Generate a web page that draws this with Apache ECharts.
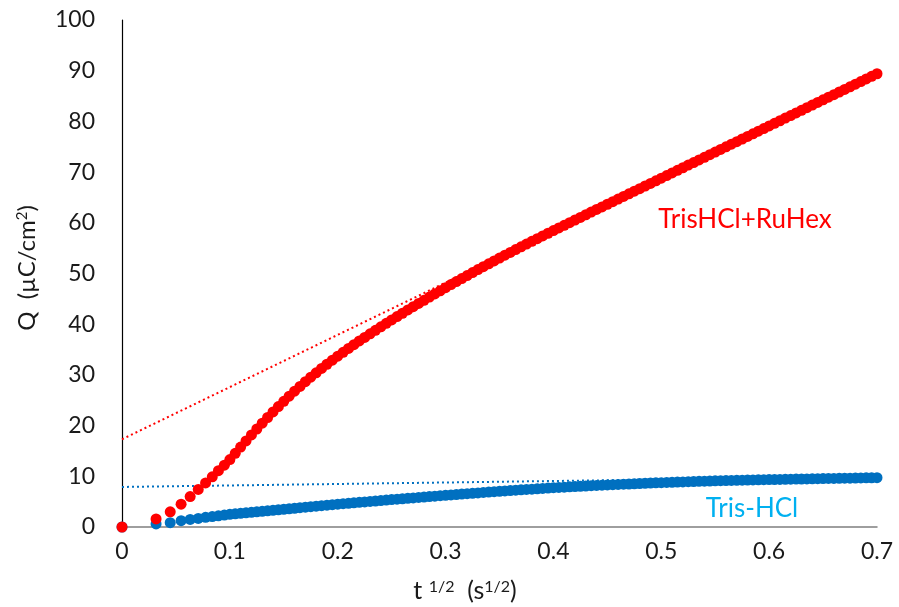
<!DOCTYPE html>
<html>
<head>
<meta charset="utf-8">
<script src="https://cdn.jsdelivr.net/npm/echarts@6/dist/echarts.min.js"></script>
<style>
  html, body { margin: 0; padding: 0; background: #fff; }
  #chart { width: 899px; height: 607px; }
</style>
</head>
<body>
<div id="chart"></div>
<script>
// Square root of time (s^1/2) for each sample
const tSqrt = [
  0, 0.0316, 0.0447, 0.0548, 0.0632, 0.0707, 0.0775, 0.0837, 0.0894, 0.0949, 0.1,
  0.105, 0.11, 0.115, 0.12, 0.125, 0.13, 0.135, 0.14, 0.145, 0.15,
  0.155, 0.16, 0.165, 0.17, 0.175, 0.18, 0.185, 0.19, 0.195, 0.2,
  0.205, 0.21, 0.215, 0.22, 0.225, 0.23, 0.235, 0.24, 0.245, 0.25,
  0.255, 0.26, 0.265, 0.27, 0.275, 0.28, 0.285, 0.29, 0.295, 0.3,
  0.305, 0.31, 0.315, 0.32, 0.325, 0.33, 0.335, 0.34, 0.345, 0.35,
  0.355, 0.36, 0.365, 0.37, 0.375, 0.38, 0.385, 0.39, 0.395, 0.4,
  0.405, 0.41, 0.415, 0.42, 0.425, 0.43, 0.435, 0.44, 0.445, 0.45,
  0.455, 0.46, 0.465, 0.47, 0.475, 0.48, 0.485, 0.49, 0.495, 0.5,
  0.505, 0.51, 0.515, 0.52, 0.525, 0.53, 0.535, 0.54, 0.545, 0.55,
  0.555, 0.56, 0.565, 0.57, 0.575, 0.58, 0.585, 0.59, 0.595, 0.6,
  0.605, 0.61, 0.615, 0.62, 0.625, 0.63, 0.635, 0.64, 0.645, 0.65,
  0.655, 0.66, 0.665, 0.67, 0.675, 0.68, 0.685, 0.69, 0.695, 0.7
];

// Charge in Tris-HCl + RuHex (µC/cm²)
const qRuHex = [
  0, 1.6, 3.0, 4.5, 6.0, 7.4, 8.7, 9.9, 11.1, 12.2, 13.3,
  14.54, 15.76, 16.97, 18.16, 19.33, 20.48, 21.60, 22.69, 23.75, 24.79,
  25.80, 26.78, 27.73, 28.66, 29.55, 30.42, 31.27, 32.10, 32.90, 33.69,
  34.46, 35.21, 35.96, 36.69, 37.40, 38.11, 38.80, 39.49, 40.17, 40.84,
  41.50, 42.16, 42.81, 43.45, 44.09, 44.72, 45.35, 45.97, 46.59, 47.20,
  47.81, 48.41, 49.01, 49.60, 50.19, 50.77, 51.35, 51.92, 52.49, 53.05,
  53.61, 54.16, 54.71, 55.26, 55.80, 56.34, 56.87, 57.41, 57.94, 58.46,
  58.98, 59.51, 60.03, 60.55, 61.07, 61.59, 62.11, 62.63, 63.14, 63.66,
  64.17, 64.68, 65.20, 65.71, 66.23, 66.74, 67.26, 67.77, 68.29, 68.80,
  69.32, 69.83, 70.35, 70.86, 71.38, 71.89, 72.41, 72.92, 73.44, 73.95,
  74.47, 74.98, 75.50, 76.01, 76.53, 77.04, 77.56, 78.07, 78.59, 79.10,
  79.62, 80.13, 80.65, 81.16, 81.68, 82.19, 82.71, 83.22, 83.74, 84.25,
  84.77, 85.28, 85.80, 86.31, 86.83, 87.34, 87.86, 88.37, 88.89, 89.40
];

// Charge in Tris-HCl buffer alone (µC/cm²)
const qTris = [
  0, 0.6, 0.85, 1.25, 1.5, 1.7, 1.9, 2.05, 2.2, 2.35, 2.5,
  2.6, 2.7, 2.8, 2.9, 3.0, 3.1, 3.2, 3.3, 3.4, 3.5,
  3.6, 3.7, 3.8, 3.9, 4.0, 4.1, 4.2, 4.3, 4.4, 4.5,
  4.59, 4.68, 4.77, 4.86, 4.95, 5.04, 5.13, 5.22, 5.31, 5.40,
  5.49, 5.57, 5.66, 5.74, 5.83, 5.91, 6.00, 6.08, 6.17, 6.25,
  6.33, 6.41, 6.49, 6.57, 6.65, 6.73, 6.81, 6.89, 6.97, 7.05,
  7.12, 7.19, 7.26, 7.33, 7.40, 7.47, 7.54, 7.61, 7.68, 7.75,
  7.81, 7.86, 7.92, 7.97, 8.03, 8.08, 8.14, 8.19, 8.25, 8.30,
  8.35, 8.39, 8.44, 8.48, 8.53, 8.57, 8.62, 8.66, 8.71, 8.75,
  8.79, 8.82, 8.86, 8.89, 8.93, 8.96, 9.00, 9.03, 9.07, 9.10,
  9.13, 9.15, 9.18, 9.20, 9.23, 9.25, 9.28, 9.30, 9.33, 9.35,
  9.37, 9.39, 9.41, 9.43, 9.45, 9.47, 9.49, 9.51, 9.53, 9.55,
  9.57, 9.58, 9.60, 9.62, 9.63, 9.65, 9.67, 9.69, 9.70, 9.72
];

// Linear fits (dotted trend lines): endpoints at t^1/2 = 0 and 0.7
const trendT = [0, 0.7];
const trendRuHex = [17.3, 89.4];
const trendTris = [7.9, 9.95];

// Axis tick labels
const xTickLabels = ['0', '0.1', '0.2', '0.3', '0.4', '0.5', '0.6', '0.7'];
const yTickLabels = ['0', '10', '20', '30', '40', '50', '60', '70', '80', '90', '100'];

const RED = '#ff0000';
const BLUE = '#0070c0';
const TEXT = '#1a1a1a';
const FONT = 'Lato, "Open Sans", sans-serif';

const pairs = (xs, ys) => xs.map((x, i) => [x, ys[i]]);

const chart = echarts.init(document.getElementById('chart'), null, { renderer: 'canvas' });

chart.setOption({
  animation: false,
  backgroundColor: '#ffffff',
  grid: { left: 122, right: 22, top: 20, bottom: 80, containLabel: false },
  xAxis: {
    type: 'value',
    min: 0, max: 0.7, interval: 0.1,
    axisLine: { show: true, onZero: false, lineStyle: { color: '#7f7f7f', width: 1.5 } },
    axisTick: { show: false },
    splitLine: { show: false },
    axisLabel: {
      margin: 13,
      fontFamily: FONT, fontSize: 23, color: TEXT,
      formatter: v => xTickLabels[Math.round(v * 10)]
    }
  },
  yAxis: {
    type: 'value',
    min: 0, max: 100, interval: 10,
    axisLine: { show: true, onZero: false, lineStyle: { color: '#000000', width: 1.2 } },
    axisTick: { show: false },
    splitLine: { show: false },
    axisLabel: {
      margin: 27,
      fontFamily: FONT, fontSize: 23, color: TEXT,
      formatter: v => yTickLabels[Math.round(v / 10)]
    }
  },
  series: [
    {
      name: 'Tris-HCl',
      type: 'scatter',
      data: pairs(tSqrt, qTris),
      symbol: 'circle', symbolSize: 11,
      itemStyle: { color: BLUE, opacity: 1 },
      z: 2, silent: true
    },
    {
      name: 'Tris-HCl fit',
      type: 'line',
      data: pairs(trendT, trendTris),
      symbol: 'none',
      lineStyle: { color: BLUE, width: 2, type: [2, 3] },
      z: 3, silent: true
    },
    {
      name: 'TrisHCl+RuHex',
      type: 'scatter',
      data: pairs(tSqrt, qRuHex),
      symbol: 'circle', symbolSize: 11,
      itemStyle: { color: RED, opacity: 1 },
      z: 4, silent: true
    },
    {
      name: 'TrisHCl+RuHex fit',
      type: 'line',
      data: pairs(trendT, trendRuHex),
      symbol: 'none',
      lineStyle: { color: RED, width: 2, type: [2, 3] },
      z: 5, silent: true
    }
  ],
  graphic: [
    {
      type: 'text',
      x: 27, y: 268,
      rotation: Math.PI / 2,
      style: {
        text: '{a|Q  (µC/cm}{s|2}{a|)}',
        align: 'center', verticalAlign: 'middle',
        fill: TEXT,
        rich: {
          a: { fontFamily: FONT, fontSize: 24, fill: TEXT, verticalAlign: 'bottom' },
          s: { fontFamily: FONT, fontSize: 15, fill: TEXT, verticalAlign: 'top' }
        }
      }
    },
    {
      type: 'text',
      x: 465, y: 591,
      style: {
        text: '{a|t }{s|1/2}{a|  (s}{s|1/2}{a|)}',
        align: 'center', verticalAlign: 'middle',
        fill: TEXT,
        rich: {
          a: { fontFamily: FONT, fontSize: 25, fill: TEXT, verticalAlign: 'bottom' },
          s: { fontFamily: FONT, fontSize: 16, fill: TEXT, verticalAlign: 'top' }
        }
      }
    },
    {
      type: 'text',
      x: 745, y: 220,
      style: {
        text: 'TrisHCl+RuHex',
        align: 'center', verticalAlign: 'middle',
        font: '26px ' + FONT,
        fill: RED
      }
    },
    {
      type: 'text',
      x: 752, y: 509,
      style: {
        text: 'Tris-HCl',
        align: 'center', verticalAlign: 'middle',
        font: '26px ' + FONT,
        fill: '#00b0f0'
      }
    }
  ]
});
</script>
</body>
</html>
